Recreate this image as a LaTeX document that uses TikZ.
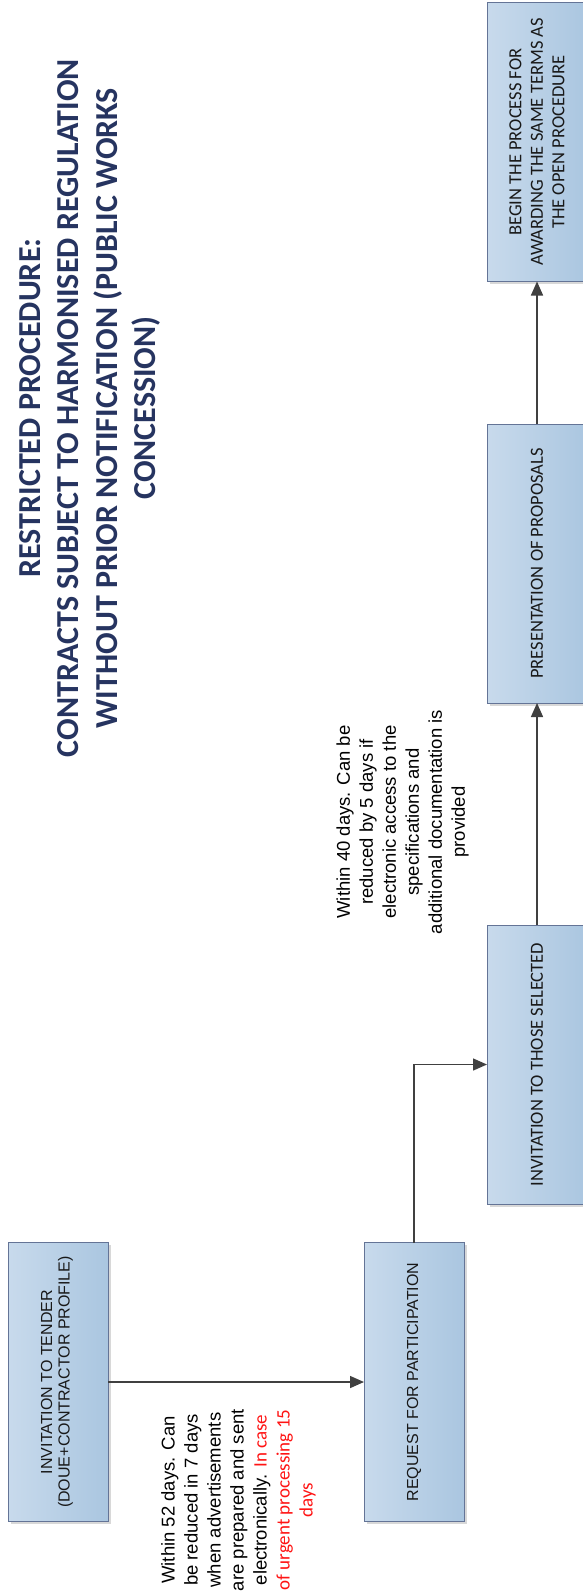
\documentclass[tikz,border=0pt]{standalone}
\usepackage{fontspec}
\usetikzlibrary{arrows.meta,shadows}
\newfontfamily\arialf{Liberation Sans}
\newfontfamily\calf{Carlito}
\definecolor{boxl}{RGB}{200,218,236}
\definecolor{boxr}{RGB}{170,198,224}
\definecolor{boxline}{RGB}{100,116,150}
\definecolor{titlec}{RGB}{38,52,96}
\definecolor{arrc}{RGB}{64,64,64}
\definecolor{redtxt}{RGB}{255,20,20}
\tikzset{
  stepbox/.style={rectangle, draw=boxline, line width=0.9pt, left color=boxl, right color=boxr,
    minimum width=100pt, minimum height=279pt, inner sep=0pt, outer sep=0pt,
    drop shadow={shadow xshift=2.5pt, shadow yshift=-2.5pt, fill=black!30, opacity=0.5}},
  atext/.style={rotate=90, align=center, text=black!90, font=\arialf\fontsize{16pt}{17.5pt}\selectfont},
  ctext/.style={rotate=90, align=center, text=black!90, font=\calf\fontsize{18.5pt}{21.5pt}\selectfont},
  lbl/.style={rotate=90, align=center, text=black, font=\arialf\fontsize{18.5pt}{23pt}\selectfont},
  arr/.style={draw=arrc, line width=1.5pt, -{Triangle[length=14pt,width=12pt]}, color=arrc},
}
\newcommand{\redc}[1]{{\calf\fontsize{19pt}{23pt}\selectfont\color{redtxt}#1}}
\begin{document}
\begin{tikzpicture}[x=1pt,y=-1pt]
\useasboundingbox[fill=white] (0,0) rectangle (582,1595);

% title
\node[rotate=90, align=center, text=titlec, font=\calf\bfseries\fontsize{32pt}{38.5pt}\selectfont] (title) at (90,408)
  {RESTRICTED PROCEDURE:\\CONTRACTS SUBJECT TO HARMONISED REGULATION\\WITHOUT PRIOR NOTIFICATION (PUBLIC WORKS\\CONCESSION)};

% boxes
\node[stepbox] (b1) at (58,1382) {};
\node[stepbox] (b2) at (414,1382) {};
\node[stepbox] (b3) at (537,1064.5) {};
\node[stepbox] (b4) at (537,563.5) {};
\node[stepbox] (b5) at (537,142) {};

\node[atext] (t1) at (57,1382) {INVITATION TO TENDER\\(DOUE+CONTRACTOR PROFILE)};
\node[atext] (t2) at (b2.center) {REQUEST FOR PARTICIPATION};
\node[ctext] (t3) at (b3.center) {INVITATION TO THOSE SELECTED};
\node[ctext] (t4) at (b4.center) {PRESENTATION OF PROPOSALS};
\node[ctext] (t5) at (b5.center) {BEGIN THE PROCESS FOR\\AWARDING THE SAME TERMS AS\\THE OPEN PROCEDURE};

% labels
\node[lbl] (l1) at (238.5,1500) {Within 52 days. Can\\be reduced in 7 days\\when advertisements\\are prepared and sent\\electronically. \redc{In case}\\\redc{of urgent processing 15}\\\redc{days}};
\node[lbl] (l2) at (402.5,822) {Within 40 days. Can be\\reduced by 5 days if\\electronic access to the\\specifications and\\additional documentation is\\provided};

% connectors
\draw[arr] (b1.east) -- (b2.west);
\draw[arr] (b2.north) |- (b3.west);
\draw[arr] (b3.north) -- (b4.south);
\draw[arr] (b4.north) -- (b5.south);
\end{tikzpicture}
\end{document}
